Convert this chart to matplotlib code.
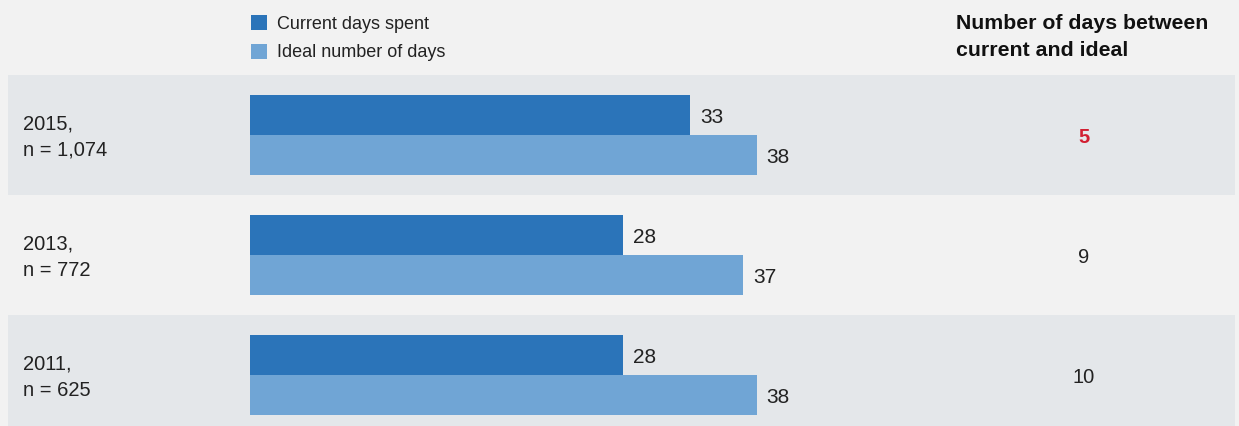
import matplotlib
matplotlib.use("Agg")
import matplotlib.pyplot as plt
from matplotlib.patches import Patch
import matplotlib.transforms as mtransforms

plt.rcParams['font.family'] = ['Liberation Sans', 'DejaVu Sans']

# ---- data ----
years = ["2015", "2013", "2011"]
sample_sizes = ["1,074", "772", "625"]
current_days = [33, 28, 28]
ideal_days = [38, 37, 38]
gap_days = [5, 9, 10]
legend_labels = ["Current days spent", "Ideal number of days"]
header_lines = ["Number of days between", "current and ideal"]

# ---- style ----
C_CUR = "#2b74b9"
C_IDEAL = "#70a5d5"
C_BG = "#f2f2f2"
C_BAND = "#e4e7ea"
C_TEXT = "#222222"
C_RED = "#d21f32"

W, H = 1239, 426
fig = plt.figure(figsize=(W / 100, H / 100), dpi=100, facecolor=C_BG)
ax = fig.add_axes([0, 0, 1, 1])
ax.set_facecolor(C_BG)

px_per_day = 440 / 33.0
x0_px = 250
ax.set_xlim(-x0_px / px_per_day, (W - x0_px) / px_per_day)
row_px = 120.0
first_center_px = 135.0
ax.set_ylim((H - first_center_px) / row_px, -first_center_px / row_px)
ax.axis("off")

n = len(years)
pos = list(range(n))
bar_h = 40 / row_px

# bands
for i in pos:
    if i % 2 == 0:
        ax.axhspan(i - 0.5, i + 0.5, xmin=8 / W, xmax=1235 / W,
                   facecolor=C_BAND, edgecolor="none", zorder=0)

cur_y = [p - bar_h / 2 for p in pos]
ide_y = [p + bar_h / 2 for p in pos]
ax.barh(cur_y, current_days, height=bar_h, color=C_CUR, zorder=2,
        label=legend_labels[0])
ax.barh(ide_y, ideal_days, height=bar_h, color=C_IDEAL, zorder=2,
        label=legend_labels[1])

for y, v in zip(cur_y, current_days):
    ax.annotate(str(v), (v, y), xytext=(7.2, -1.6), textcoords="offset points",
                ha="left", va="center", fontsize=15, color=C_TEXT)
for y, v in zip(ide_y, ideal_days):
    ax.annotate(str(v), (v, y), xytext=(7.2, -1.6), textcoords="offset points",
                ha="left", va="center", fontsize=15, color=C_TEXT)

blend = mtransforms.blended_transform_factory(ax.transAxes, ax.transData)
for i, (yr, ns) in zip(pos, zip(years, sample_sizes)):
    ax.text(23 / W, i - 11 / row_px, yr + ",", transform=blend, ha="left",
            va="center", fontsize=14.5, color=C_TEXT)
    ax.text(23 / W, i + 15.5 / row_px, "n = " + ns, transform=blend, ha="left",
            va="center", fontsize=14.5, color=C_TEXT)

for i, g in zip(pos, gap_days):
    if i == 0:
        ax.text(1084 / W, i + 2.5 / row_px, str(g), transform=blend, ha="center",
                va="center", fontsize=14.5, color=C_RED, fontweight="bold")
    else:
        ax.text(1084 / W, i + 2.5 / row_px, str(g), transform=blend, ha="center",
                va="center", fontsize=14.5, color=C_TEXT)

# header
fig.text(956 / W, 1 - 23.5 / H, header_lines[0], ha="left", va="center",
         fontsize=15.3, fontweight="bold", color="#111111")
fig.text(956 / W, 1 - 50.5 / H, header_lines[1], ha="left", va="center",
         fontsize=15.3, fontweight="bold", color="#111111")

# legend
handles = [Patch(facecolor=C_CUR, edgecolor="none"),
           Patch(facecolor=C_IDEAL, edgecolor="none")]
leg = ax.legend(handles, legend_labels, loc="upper left",
                bbox_to_anchor=(251 / W, 1 - 15 / H), bbox_transform=fig.transFigure,
                frameon=False, fontsize=13, handlelength=0.9, handleheight=0.9,
                handletextpad=0.55, labelspacing=0.6, borderpad=0, borderaxespad=0)
for t in leg.get_texts():
    t.set_color(C_TEXT)

fig.savefig("out.png", dpi=100, facecolor=C_BG)
